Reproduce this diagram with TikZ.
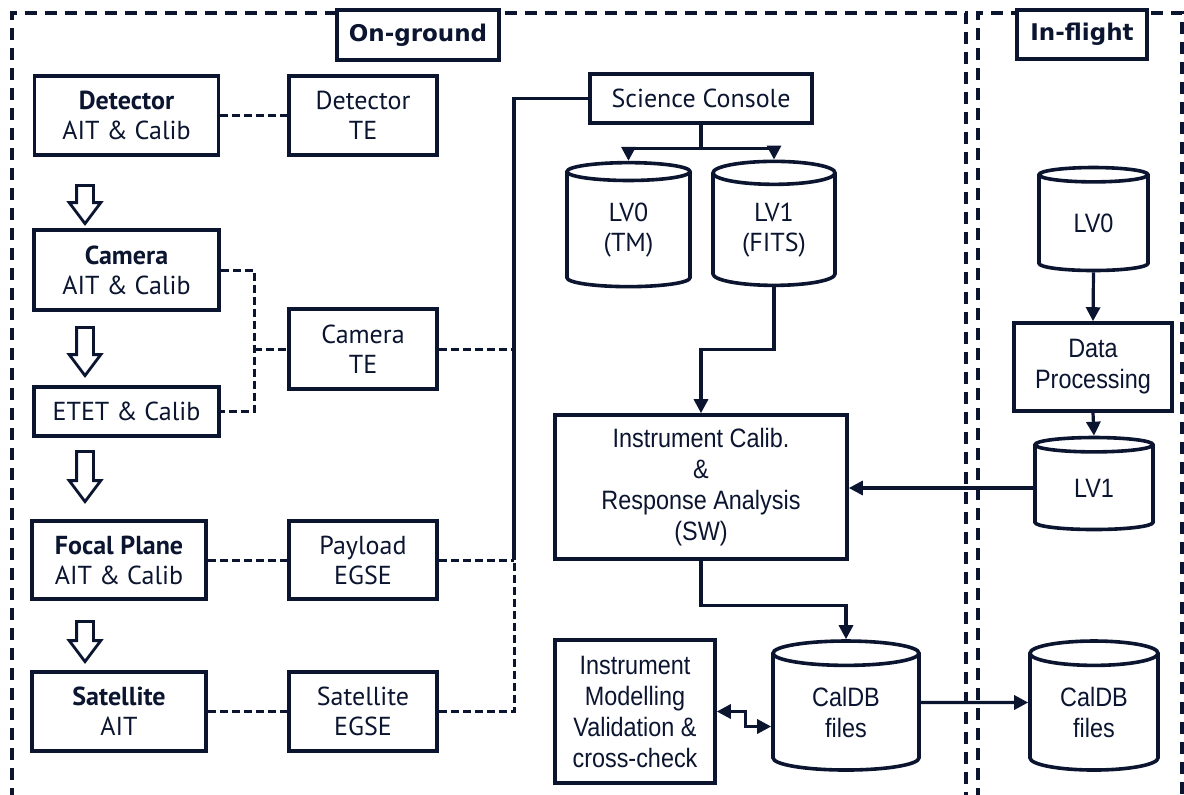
\documentclass[tikz,border=0pt]{standalone}
\usepackage{fontspec}
\setmainfont{PT Sans}
\newfontfamily\arialfont[FakeStretch=0.88]{Liberation Sans}
\newfontfamily\headfont{DejaVu Sans}
\usetikzlibrary{shapes.geometric,shapes.arrows,arrows.meta}
\definecolor{ink}{HTML}{0B1530}

\begin{document}
\begin{tikzpicture}[x=0.5pt,y=-0.5pt,
  box/.style={draw=ink,line width=1.8pt,fill=white,text=ink,align=center,inner sep=1pt,font=\fontsize{13}{15}\selectfont},
  calcbox/.style={box,font=\arialfont\fontsize{13.3}{15.5}\selectfont},
  tag/.style={box,font=\headfont\bfseries\fontsize{11.5}{13}\selectfont},
  store/.style={cylinder,shape border rotate=90,aspect=0.36,draw=ink,line width=1.8pt,fill=white,text=ink,align=center,inner sep=0pt},
  zone/.style={draw=ink,line width=1.9pt,dash pattern=on 6pt off 4pt},
  tether/.style={draw=ink,line width=1.5pt,dash pattern=on 4pt off 2pt},
  wire/.style={draw=ink,line width=1.6pt},
  feed/.style={wire,-{Triangle[length=7pt,width=7pt]}},
  downarrow/.style={single arrow,shape border rotate=270,draw=ink,line width=1.4pt,fill=white,inner sep=3.5pt,single arrow head extend=3.7pt,single arrow tip angle=74}
]
\useasboundingbox (0,0) rectangle (1184,794);

% frames
\draw[zone] (12,800) -- (12,13) -- (966,13) -- (966,800);
\draw[zone] (978,800) -- (978,13) -- (1182,13) -- (1182,800);
\node[tag,minimum width=81pt,minimum height=25pt] (ground) at (418,35) {On-ground};
\node[tag,minimum width=65pt,minimum height=24.5pt] (flight) at (1082,34.5) {In-flight};

% AIT chain
\node[box,minimum width=92pt,minimum height=39.5pt] (det) at (126.5,115.5) {\textbf{Detector}\\AIT \& Calib};
\node[box,minimum width=92.5pt,minimum height=40pt] (cam) at (126.5,270) {\textbf{Camera}\\AIT \& Calib};
\node[box,minimum width=92.5pt,minimum height=24.5pt] (etet) at (126.5,411.5) {ETET \& Calib};
\node[box,minimum width=87pt,minimum height=39pt] (fp) at (119,560) {\textbf{Focal Plane}\\AIT \& Calib};
\node[box,minimum width=87pt,minimum height=39.5pt] (sat) at (119,711.5) {\textbf{Satellite}\\AIT};
\foreach \y/\l [count=\i] in {199/19,346/24,471/25,636/20}
  \node[downarrow,minimum height=\l pt] (down\i) at (85,\y) {};

% test equipment
\node[box,minimum width=74pt,minimum height=39.5pt] (detTE) at (363,115.5) {Detector\\TE};
\node[box,minimum width=74pt,minimum height=40pt] (camTE) at (363,349) {Camera\\TE};
\node[box,minimum width=74pt,minimum height=39pt] (pay) at (363,560) {Payload\\EGSE};
\node[box,minimum width=74pt,minimum height=39.5pt] (satTE) at (363,711.5) {Satellite\\EGSE};

\coordinate (camjoin) at (254,349);
\coordinate (bus) at (514,560);
\draw[tether] (det.east) -- (detTE.west);
\draw[tether] (cam.east) -| (camjoin) |- (etet.east);
\draw[tether] (camjoin) -- (camTE.west);
\draw[tether] (fp.east) -- (pay.west);
\draw[tether] (sat.east) -- (satTE.west);
\draw[tether] (camTE.east) -- (camTE.east -| bus);
\draw[tether] (pay.east) -- (bus);
\draw[tether] (satTE.east) -| (bus);

% science chain
\node[box,minimum width=111pt,minimum height=24.5pt] (sc) at (701,98.5) {Science Console};
\draw[wire] (sc.west) -| (bus);
\node[store,minimum width=61.5pt,minimum height=62pt,font=\fontsize{13}{15}\selectfont] (lv0tm) at (628.5,230) {LV0\\(TM)};
\node[store,minimum width=61pt,minimum height=62pt,font=\fontsize{13}{15}\selectfont] (lv1fits) at (774,230) {LV1\\(FITS)};
\draw[wire] (sc.south) -- ++(0,24) coordinate (split);
\draw[feed] (split) -| (lv0tm.north);
\draw[feed] (split) -| (lv1fits.north);

\node[calcbox,minimum width=146pt,minimum height=72pt] (calib) at (701,487) {Instrument Calib.\\\&\\Response Analysis\\(SW)};
\draw[feed] (lv1fits.south) -- ++(0,62) -| (calib.north);

\node[calcbox,minimum width=80pt,minimum height=71.5pt] (model) at (635,711.5) {Instrument\\Modelling\\Validation \&\\cross-check};
\node[store,minimum width=73pt,minimum height=64.5pt,font=\arialfont\fontsize{13.3}{15.5}\selectfont] (caldb) at (846,712.5) {CalDB\\files};
\draw[feed] (calib.south) -- ++(0,45) -| (caldb.north);
\draw[wire,{Triangle[length=7pt,width=7pt]}-{Triangle[length=7pt,width=7pt]}] (model.east) -- ++(29,0) |- ([yshift=-7pt]caldb.west);

% in-flight chain
\node[store,minimum width=54.5pt,minimum height=51.5pt,font=\arialfont\fontsize{13.3}{15.5}\selectfont] (lv0f) at (1093.5,223.5) {LV0};
\node[calcbox,minimum width=79pt,minimum height=44pt] (proc) at (1093,367) {Data\\Processing};
\node[store,minimum width=59pt,minimum height=46pt,font=\arialfont\fontsize{13.3}{15.5}\selectfont] (lv1f) at (1094,488) {LV1};
\node[store,minimum width=64pt,minimum height=64.5pt,font=\arialfont\fontsize{13.3}{15.5}\selectfont] (caldbF) at (1094,712.5) {CalDB\\files};
\draw[feed] (lv0f.south) -- (proc.north);
\draw[feed] (proc.south) -- (lv1f.north);
\draw[feed] (lv1f.west) -- (lv1f.west -| calib.east);
\draw[feed] ([yshift=5pt]caldb.east) -- ([yshift=5pt]caldbF.west);
\end{tikzpicture}
\end{document}
